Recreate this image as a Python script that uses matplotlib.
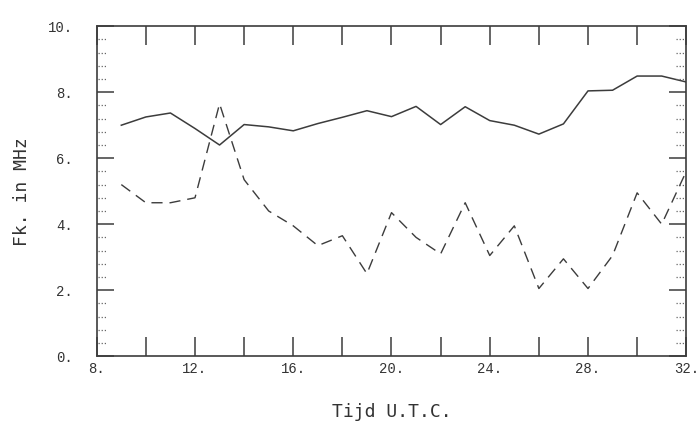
import numpy as np
import matplotlib
matplotlib.use('Agg')
import matplotlib.pyplot as plt

# Tijd (U.T.C.) en kritische frequenties (MHz)
uur = [9, 10, 11, 12, 13, 14, 15, 16, 17, 18, 19, 20,
       21, 22, 23, 24, 25, 26, 27, 28, 29, 30, 31, 32]
fk_doorgetrokken = [7.0, 7.25, 7.37, 6.9, 6.4, 7.02, 6.95, 6.83, 7.05, 7.24, 7.44, 7.26,
                    7.57, 7.02, 7.56, 7.14, 7.0, 6.73, 7.04, 8.04, 8.06, 8.49, 8.49, 8.31]
fk_gestreept = [5.2, 4.65, 4.65, 4.8, 7.65, 5.35, 4.4, 3.95, 3.35, 3.65, 2.5, 4.35,
                3.6, 3.1, 4.65, 3.05, 3.95, 2.05, 2.95, 2.05, 3.05, 4.95, 4.0, 5.6]

x_ticks = [8, 12, 16, 20, 24, 28, 32]
x_labels = ['8.', '12.', '16.', '20.', '24.', '28.', '32.']
y_ticks = [0, 2, 4, 6, 8, 10]
y_labels = ['0.', '2.', '4.', '6.', '8.', '10.']

kleur = '#3c3c3c'

fig = plt.figure(figsize=(6.96, 4.23), dpi=100)
ax = fig.add_axes([0.139, 0.158, 0.847, 0.780])

ax.plot(uur, fk_doorgetrokken, color=kleur, lw=1.1)
ax.plot(uur, fk_gestreept, color=kleur, lw=1.0, linestyle=(0, (8, 5)))

ax.set_xlim(8, 32)
ax.set_ylim(0, 10)

# grote streepjes elke 2 eenheden, labels elke 4
ax.set_xticks(np.arange(8, 33, 2))
ax.set_xticklabels([x_labels[x_ticks.index(t)] if t in x_ticks else '' for t in range(8, 33, 2)])
ax.set_yticks(y_ticks)
ax.set_yticklabels(y_labels)

ax.tick_params(axis='x', direction='in', length=14, width=1.1, color=kleur,
               top=True, bottom=True, pad=4, labelsize=10, labelcolor='#333333')
ax.tick_params(axis='y', direction='in', length=12, width=1.1, color=kleur,
               left=True, right=True, pad=17, labelsize=10, labelcolor='#333333')
for lab in ax.get_xticklabels() + ax.get_yticklabels():
    lab.set_family('Liberation Mono')

# kleine gestippelde streepjes op de y-as
klein = [v for v in np.arange(0, 10.01, 0.4) if abs(v / 2 - round(v / 2)) > 1e-6]
trans = ax.get_yaxis_transform()
ax.hlines(klein, 0.002, 0.017, transform=trans, colors='#666666', linestyles=(0, (1, 1.5)), lw=0.9)
ax.hlines(klein, 0.983, 0.998, transform=trans, colors='#666666', linestyles=(0, (1, 1.5)), lw=0.9)

for s in ax.spines.values():
    s.set_color(kleur)
    s.set_linewidth(1.2)

ax.set_xlabel('Tijd U.T.C.', family='DejaVu Sans Mono', fontsize=13,
              color='#333333', labelpad=20)
ax.set_ylabel('Fk. in MHz', family='DejaVu Sans Mono', fontsize=13,
              color='#333333', labelpad=12)

fig.savefig('out.png', dpi=100)
